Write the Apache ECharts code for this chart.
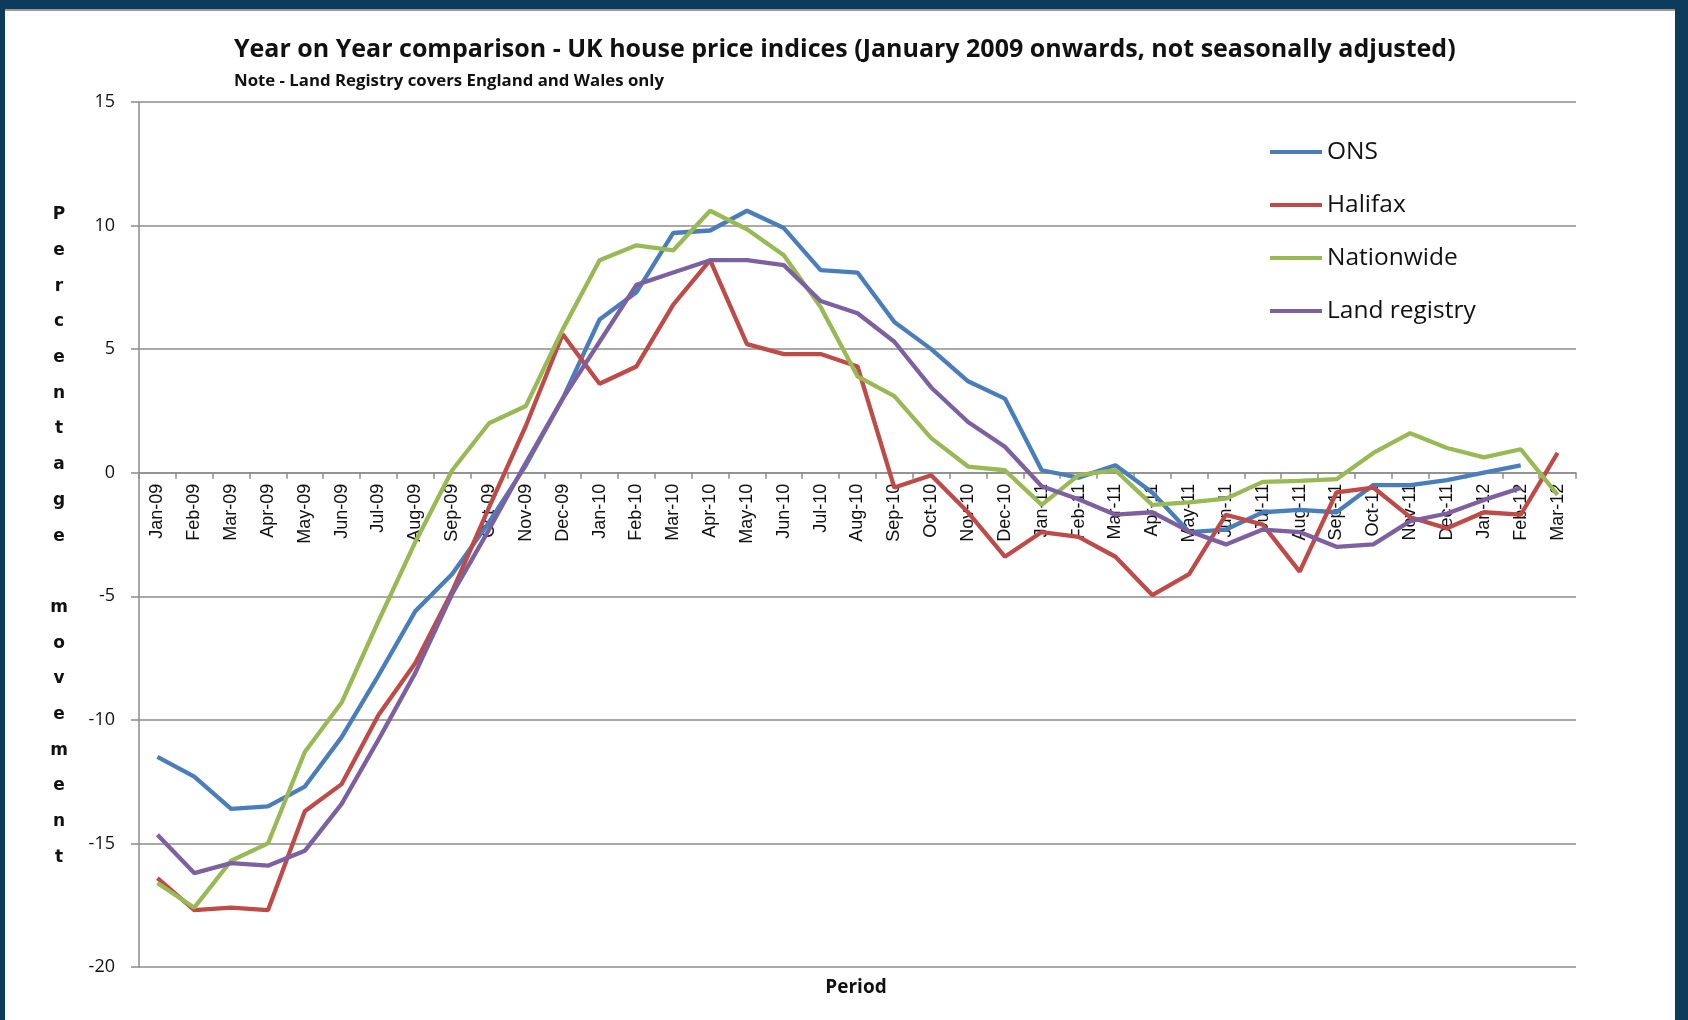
<!DOCTYPE html>
<html>
<head>
<meta charset="utf-8">
<script src="https://cdn.jsdelivr.net/npm/echarts@6/dist/echarts.min.js"></script>
<style>
  html, body { margin: 0; padding: 0; background: #0c3b5b; }
  #sheet {
    position: absolute; left: 5px; top: 9px; width: 1670px; height: 1011px;
    background: #fff; border-top: 2px solid #9a9a9a; box-sizing: border-box;
  }
  #chart { position: absolute; left: 0; top: 0; width: 1688px; height: 1020px; }
</style>
</head>
<body>
<div id="sheet"></div>
<div id="chart"></div>
<script>
const months = [
  'Jan-09', 'Feb-09', 'Mar-09', 'Apr-09', 'May-09', 'Jun-09', 'Jul-09', 'Aug-09', 'Sep-09', 'Oct-09', 'Nov-09', 'Dec-09',
  'Jan-10', 'Feb-10', 'Mar-10', 'Apr-10', 'May-10', 'Jun-10', 'Jul-10', 'Aug-10', 'Sep-10', 'Oct-10', 'Nov-10', 'Dec-10',
  'Jan-11', 'Feb-11', 'Mar-11', 'Apr-11', 'May-11', 'Jun-11', 'Jul-11', 'Aug-11', 'Sep-11', 'Oct-11', 'Nov-11', 'Dec-11',
  'Jan-12', 'Feb-12', 'Mar-12'
]

const ons = [
  -11.5, -12.3, -13.6, -13.5, -12.7, -10.7, -8.2, -5.6, -4.1, -2.0, 0.3, 3.0,
  6.2, 7.3, 9.7, 9.8, 10.6, 9.9, 8.2, 8.1, 6.1, 5.0, 3.7, 3.0,
  0.1, -0.2, 0.3, -0.8, -2.4, -2.3, -1.6, -1.5, -1.6, -0.5, -0.5, -0.3,
  0.0, 0.3, null
]

const halifax = [
  -16.4, -17.7, -17.6, -17.7, -13.7, -12.6, -9.8, -7.7, -4.8, -1.4, 1.9, 5.6,
  3.6, 4.3, 6.8, 8.6, 5.2, 4.8, 4.8, 4.3, -0.6, -0.1, -1.6, -3.4,
  -2.4, -2.6, -3.4, -4.95, -4.1, -1.7, -2.1, -4.0, -0.8, -0.6, -1.8, -2.25,
  -1.6, -1.7, 0.8
]

const nationwide = [
  -16.6, -17.6, -15.7, -15.0, -11.3, -9.3, -6.0, -2.8, 0.1, 2.0, 2.7, 5.8,
  8.6, 9.2, 9.0, 10.6, 9.85, 8.8, 6.7, 3.9, 3.1, 1.4, 0.25, 0.1,
  -1.3, -0.1, 0.1, -1.3, -1.2, -1.05, -0.37, -0.33, -0.26, 0.8, 1.6, 1.0,
  0.62, 0.95, -0.9
]

const landRegistry = [
  -14.65, -16.2, -15.8, -15.9, -15.3, -13.4, -10.8, -8.1, -4.9, -2.3, 0.4, 3.0,
  5.3, 7.6, 8.1, 8.6, 8.6, 8.4, 6.95, 6.45, 5.3, 3.45, 2.05, 1.05,
  -0.55, -1.07, -1.7, -1.6, -2.37, -2.9, -2.3, -2.4, -3.0, -2.9, -1.96, -1.65,
  -1.1, -0.62, null
]

const yTicks = { min: -20, max: 15, step: 5 }

const gridGray = '#8c8c8c'

// plot box, in page pixels
const plotTop = 102
const plotBottom = 967

// the category axis sits on the zero line, so push it up from the grid bottom
const zeroY = plotTop + (yTicks.max / (yTicks.max - yTicks.min)) * (plotBottom - plotTop)
const xAxisOffset = -(plotBottom - zeroY)

// one line series per index
function lineSeries(name, data, color) {
  return {
    name: name,
    type: 'line',
    data: data,
    symbol: 'none',
    lineStyle: { width: 4.3, color: color },
    itemStyle: { color: color },
    emphasis: { disabled: true }
  }
}

const chart = echarts.init(document.getElementById('chart'))

const option = {
  animation: false,
  backgroundColor: 'transparent',
  title: {
    text: 'Year on Year comparison - UK house price indices (January 2009 onwards, not seasonally adjusted)',
    subtext: 'Note - Land Registry covers England and Wales only',
    left: 229,
    top: 29,
    itemGap: 5,
    textStyle: {
      fontFamily: 'Open Sans',
      fontWeight: 'bold',
      fontSize: 25,
      lineHeight: 32,
      color: '#111'
    },
    subtextStyle: {
      fontFamily: 'Open Sans',
      fontWeight: 'bold',
      fontSize: 16.8,
      lineHeight: 20,
      color: '#111'
    }
  },
  legend: {
    orient: 'vertical',
    left: 1265,
    top: 133,
    icon: 'rect',
    itemWidth: 52,
    itemHeight: 4,
    itemGap: 25,
    textStyle: {
      fontFamily: 'Open Sans',
      fontSize: 24.5,
      lineHeight: 28,
      color: '#111'
    },
    data: ['ONS', 'Halifax', 'Nationwide', 'Land registry']
  },
  grid: {
    left: 139,
    right: 112,
    top: plotTop,
    bottom: 1020 - plotBottom,
    containLabel: false
  },
  xAxis: {
    type: 'category',
    data: months,
    boundaryGap: true,
    position: 'bottom',
    offset: xAxisOffset,
    axisLine: { onZero: false, lineStyle: { color: gridGray, width: 1.5 } },
    axisTick: { show: true, length: 6, interval: 0, lineStyle: { color: gridGray, width: 1.5 } },
    axisLabel: {
      interval: 0,
      rotate: 90,
      margin: 11,
      fontFamily: 'Liberation Sans',
      fontSize: 18,
      color: '#111'
    },
    splitLine: { show: false }
  },
  yAxis: {
    type: 'value',
    min: yTicks.min,
    max: yTicks.max,
    interval: yTicks.step,
    axisLine: { show: true, lineStyle: { color: gridGray, width: 1.5 } },
    axisTick: { show: true, length: 8, lineStyle: { color: gridGray, width: 1.5 } },
    axisLabel: {
      margin: 24,
      fontFamily: 'Open Sans',
      fontSize: 18,
      color: '#111'
    },
    splitLine: { show: true, lineStyle: { color: gridGray, width: 1.5 } }
  },
  graphic: [
    {
      // stacked letters, like the original axis title
      type: 'text',
      x: 59,
      y: 197,
      style: {
        text: 'Percentage movement'.split('').join('\n'),
        align: 'center',
        verticalAlign: 'top',
        lineHeight: 35.7,
        fontFamily: 'DejaVu Sans',
        fontWeight: 'bold',
        fontSize: 17,
        fill: '#111'
      }
    },
    {
      type: 'text',
      x: 856,
      y: 988,
      style: {
        text: 'Period',
        align: 'center',
        verticalAlign: 'middle',
        fontFamily: 'Open Sans',
        fontWeight: 'bold',
        fontSize: 19,
        fill: '#111'
      }
    }
  ],
  series: [
    lineSeries('ONS', ons, '#4a7ebb'),
    lineSeries('Halifax', halifax, '#be4b48'),
    lineSeries('Nationwide', nationwide, '#98b954'),
    lineSeries('Land registry', landRegistry, '#7d60a0')
  ]
}

chart.setOption(option)
</script>
</body>
</html>
